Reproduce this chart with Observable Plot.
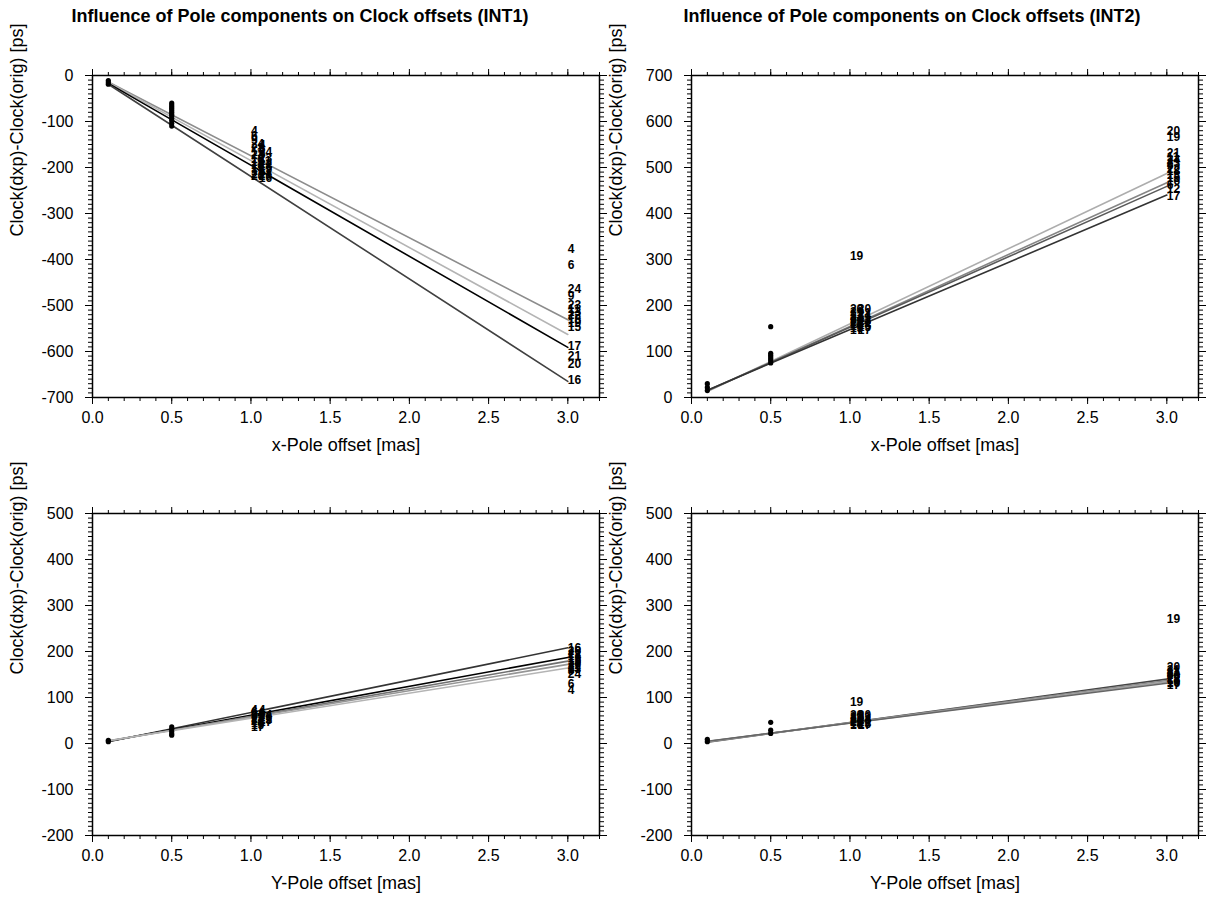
<!DOCTYPE html>
<html>
<head>
<meta charset="utf-8">
<script src="https://cdn.jsdelivr.net/npm/d3@7"></script>
<script src="https://cdn.jsdelivr.net/npm/@observablehq/plot@0.6"></script>
<style>
  html, body { margin: 0; padding: 0; background: #fff; }
  #figure { position: relative; width: 1221px; height: 904px; overflow: hidden;
            font-family: "Liberation Sans", Arial, Helvetica, sans-serif; color: #000; }
  .panel { position: absolute; }
  .panel svg { display: block; overflow: visible; }
  .title { position: absolute; top: 7px; width: 600px; text-align: center;
           font-size: 18px; font-weight: bold; line-height: 18px; white-space: nowrap; }
</style>
</head>
<body>
<div id="figure"></div>
<script>
// ---- shared axis values -------------------------------------------------
const fitOffsets = [0.1, 3.0];               // fitted lines run between these pole offsets
const xMajorTicks = [0, 0.5, 1, 1.5, 2, 2.5, 3];
const xMinorTicks = d3.range(0, 33).map(i => i / 10);
const yTitle = "Clock(dxp)-Clock(orig) [ps]";
const titles = [
  "Influence of Pole components on Clock offsets (INT1)",
  "Influence of Pole components on Clock offsets (INT2)"
];

// ---- INT1, x-pole ---------------------------------------------------------
const int1xFitStart = [-14, -15, -17, -19];
const int1xFitEnd = [-531, -563, -591, -665];
const int1xDots = [
  [0.1, -11], [0.1, -15], [0.1, -19],
  [0.5, -60], [0.5, -64], [0.5, -68], [0.5, -72], [0.5, -76], [0.5, -80],
  [0.5, -84], [0.5, -88], [0.5, -93], [0.5, -98], [0.5, -104], [0.5, -110]
];
const int1xLabels = [
  [1.0, -121, "4"], [1.0, -131, "6"], [1.0, -141, "9"], [1.0, -150, "24"], [1.0, -158, "23"],
  [1.0, -166, "11"], [1.0, -174, "22"], [1.0, -181, "18"], [1.0, -188, "13"], [1.0, -195, "15"],
  [1.0, -202, "19"], [1.0, -208, "17"], [1.0, -214, "21"], [1.0, -219, "20"],
  [1.05, -152, "4"], [1.05, -160, "6"], [1.05, -167, "24"], [1.05, -174, "9"], [1.05, -180, "23"],
  [1.05, -186, "11"], [1.05, -192, "22"], [1.05, -198, "18"], [1.05, -204, "15"], [1.05, -209, "17"],
  [1.05, -214, "21"], [1.05, -218, "20"], [1.05, -223, "16"],
  [3.0, -377, "4"], [3.0, -413, "6"], [3.0, -464, "24"], [3.0, -479, "9"], [3.0, -500, "23"],
  [3.0, -508, "11"], [3.0, -515, "13"], [3.0, -522, "22"], [3.0, -530, "18"], [3.0, -538, "19"],
  [3.0, -547, "15"], [3.0, -588, "17"], [3.0, -611, "21"], [3.0, -628, "20"], [3.0, -662, "16"]
];

// ---- INT2, x-pole ---------------------------------------------------------
const int2xFitStart = [13, 14, 15, 16];
const int2xFitEnd = [487, 467, 459, 440];
const int2xDots = [
  [0.1, 30], [0.1, 22], [0.1, 15],
  [0.5, 154], [0.5, 96], [0.5, 92], [0.5, 88], [0.5, 84], [0.5, 80], [0.5, 75]
];
const int2xLabels = [
  [1.0, 308, "19"], [1.0, 192, "20"], [1.0, 186, "21"], [1.0, 181, "11"], [1.0, 176, "23"],
  [1.0, 171, "24"], [1.0, 167, "9"], [1.0, 163, "22"], [1.0, 159, "18"], [1.0, 155, "13"],
  [1.0, 151, "15"], [1.0, 146, "17"],
  [1.05, 191, "20"], [1.05, 184, "21"], [1.05, 178, "24"], [1.05, 172, "11"], [1.05, 167, "23"],
  [1.05, 162, "22"], [1.05, 157, "18"], [1.05, 152, "15"], [1.05, 147, "17"],
  [3.0, 578, "20"], [3.0, 567, "19"], [3.0, 531, "21"], [3.0, 522, "11"], [3.0, 515, "24"],
  [3.0, 509, "23"], [3.0, 503, "9"], [3.0, 497, "22"], [3.0, 491, "18"], [3.0, 484, "13"],
  [3.0, 477, "15"], [3.0, 470, "16"], [3.0, 462, "6"], [3.0, 452, "12"], [3.0, 438, "17"]
];

// ---- INT1, y-pole ---------------------------------------------------------
const int1yFitStart = [4, 5, 5, 6, 6];
const int1yFitEnd = [208, 187, 179, 172, 164];
const int1yDots = [
  [0.1, 4], [0.1, 7],
  [0.5, 36], [0.5, 31], [0.5, 26], [0.5, 21], [0.5, 18]
];
const int1yLabels = [
  [1.0, 72, "4"], [1.0, 68, "6"], [1.0, 64, "24"], [1.0, 60, "9"], [1.0, 56, "23"],
  [1.0, 52, "11"], [1.0, 48, "22"], [1.0, 44, "18"], [1.0, 40, "15"], [1.0, 36, "17"],
  [1.05, 72, "4"], [1.05, 67, "6"], [1.05, 62, "24"], [1.05, 58, "23"], [1.05, 54, "22"],
  [1.05, 50, "15"], [1.05, 46, "17"],
  [3.0, 208, "16"], [3.0, 200, "20"], [3.0, 195, "21"], [3.0, 190, "17"], [3.0, 186, "19"],
  [3.0, 182, "15"], [3.0, 178, "13"], [3.0, 174, "18"], [3.0, 170, "22"], [3.0, 166, "11"],
  [3.0, 162, "23"], [3.0, 157, "9"], [3.0, 150, "24"], [3.0, 130, "6"], [3.0, 115, "4"]
];

// ---- INT2, y-pole ---------------------------------------------------------
const int2yFitStart = [3, 4, 4, 5];
const int2yFitEnd = [140, 137, 134, 131];
const int2yDots = [
  [0.1, 9], [0.1, 4],
  [0.5, 46], [0.5, 29], [0.5, 22]
];
const int2yLabels = [
  [1.0, 89, "19"], [1.0, 62, "20"], [1.0, 58, "21"], [1.0, 55, "11"], [1.0, 52, "24"],
  [1.0, 49, "23"], [1.0, 46, "22"], [1.0, 43, "18"], [1.0, 40, "17"],
  [1.05, 62, "20"], [1.05, 58, "21"], [1.05, 54, "24"], [1.05, 50, "23"], [1.05, 46, "22"],
  [1.05, 42, "15"], [1.05, 39, "17"],
  [3.0, 270, "19"], [3.0, 166, "20"], [3.0, 160, "21"], [3.0, 156, "11"], [3.0, 152, "24"],
  [3.0, 149, "23"], [3.0, 146, "9"], [3.0, 143, "22"], [3.0, 140, "18"], [3.0, 137, "13"],
  [3.0, 134, "15"], [3.0, 131, "16"], [3.0, 127, "17"]
];

// ---- drawing ---------------------------------------------------------------
const FONT = '"Liberation Sans", Arial, Helvetica, sans-serif';
const FRAME_W = 507, FRAME_H = 322, MARGIN_TOP = 25;

function drawPanel(p) {
  const [y0, y1] = p.yDomain;
  const yMajor = d3.range(y0, y1 + 1, 100);
  const yMinor = d3.range(y0, y1 + 1, 10);
  const fits = p.fitStart.map((s, i) => [[fitOffsets[0], s], [fitOffsets[1], p.fitEnd[i]]]);
  const blank = () => "";

  const chart = Plot.plot({
    width: p.width,
    height: p.height,
    marginTop: MARGIN_TOP,
    marginBottom: p.height - MARGIN_TOP - FRAME_H,
    marginLeft: p.marginLeft,
    marginRight: p.width - p.marginLeft - FRAME_W,
    x: {domain: [0, 3.2]},
    y: {domain: p.yDomain},
    style: {fontFamily: FONT, fontSize: "16px", color: "#000", background: "transparent", overflow: "visible"},
    marks: [
      ...fits.map((f, i) => Plot.line(f, {
        x: d => d[0], y: d => d[1], stroke: p.shades[i], strokeWidth: 1.6
      })),
      Plot.dot(p.dots, {x: d => d[0], y: d => d[1], r: 2.6, fill: "#000", stroke: "none"}),
      Plot.text(p.labels, {
        x: d => d[0], y: d => d[1], text: d => d[2],
        textAnchor: "start", fontSize: 12, fontWeight: "bold", fill: "#000"
      }),
      // ticks on all four sides, pointing outwards; labels on left and bottom only
      Plot.axisX(xMinorTicks, {tickSize: 4, tickFormat: blank, label: null}),
      Plot.axisX(xMajorTicks, {tickSize: 7, tickPadding: 7, tickFormat: d3.format(".1f"), fontSize: 16, label: null}),
      Plot.axisX(xMinorTicks, {anchor: "top", tickSize: 4, tickFormat: blank, label: null}),
      Plot.axisX(xMajorTicks, {anchor: "top", tickSize: 7, tickFormat: blank, label: null}),
      Plot.axisY(yMinor, {tickSize: 4, tickFormat: blank, label: null}),
      Plot.axisY(yMajor, {tickSize: 7, tickPadding: 12, tickFormat: d => String(d), fontSize: 16, label: null}),
      Plot.axisY(yMinor, {anchor: "right", tickSize: 4, tickFormat: blank, label: null}),
      Plot.axisY(yMajor, {anchor: "right", tickSize: 7, tickFormat: blank, label: null}),
      Plot.frame({stroke: "#000", strokeWidth: 1.5}),
      Plot.text([p.xTitle], {text: d => d, frameAnchor: "bottom", dy: 53, fontSize: 18, fill: "#000"}),
      Plot.text([yTitle], {text: d => d, frameAnchor: "left", rotate: -90, dx: -75, fontSize: 18, fill: "#000"})
    ]
  });

  const holder = document.createElement("div");
  holder.className = "panel";
  holder.style.left = p.left + "px";
  holder.style.top = p.top + "px";
  holder.appendChild(chart);
  document.getElementById("figure").appendChild(holder);
}

const panels = [
  {left: 0, top: 50, width: 610, height: 420, marginLeft: 92, yDomain: [-700, 0],
   fitStart: int1xFitStart, fitEnd: int1xFitEnd, dots: int1xDots, labels: int1xLabels,
   shades: ["#8c8c8c", "#b4b4b4", "#000000", "#404040"], xTitle: "x-Pole offset [mas]"},
  {left: 610, top: 50, width: 611, height: 420, marginLeft: 81, yDomain: [0, 700],
   fitStart: int2xFitStart, fitEnd: int2xFitEnd, dots: int2xDots, labels: int2xLabels,
   shades: ["#adadad", "#858585", "#5a5a5a", "#333333"], xTitle: "x-Pole offset [mas]"},
  {left: 0, top: 488, width: 610, height: 416, marginLeft: 92, yDomain: [-200, 500],
   fitStart: int1yFitStart, fitEnd: int1yFitEnd, dots: int1yDots, labels: int1yLabels,
   shades: ["#333333", "#000000", "#707070", "#959595", "#b4b4b4"], xTitle: "Y-Pole offset [mas]"},
  {left: 610, top: 488, width: 611, height: 416, marginLeft: 81, yDomain: [-200, 500],
   fitStart: int2yFitStart, fitEnd: int2yFitEnd, dots: int2yDots, labels: int2yLabels,
   shades: ["#444444", "#8a8a8a", "#a0a0a0", "#666666"], xTitle: "Y-Pole offset [mas]"}
];
panels.forEach(drawPanel);

// panel headings, one over each column
const titleLefts = [0, 612];
titles.forEach((t, i) => {
  const div = document.createElement("div");
  div.className = "title";
  div.style.left = titleLefts[i] + "px";
  div.textContent = t;
  document.getElementById("figure").appendChild(div);
});
</script>
</body>
</html>
